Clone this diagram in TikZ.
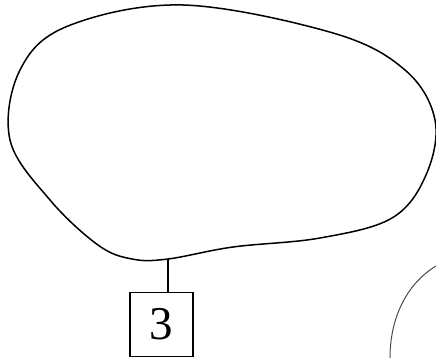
\documentclass[tikz,border=0pt]{standalone}
\usepackage{fontspec}
\setmainfont{Liberation Serif}
\usepackage{tikz}

\begin{document}
\begin{tikzpicture}[x=1pt,y=-1pt]
      \useasboundingbox (0,0) rectangle (436,358);
      \clip (0,0) rectangle (436,358);
      \draw[line width=1.5pt] plot[smooth cycle, tension=0.6] coordinates {(183,5) (333,33) (405,70) (435,120) (426,175) (392,218) (320,238) (233,247) (168,259) (132,259) (98,245) (50,200) (10,140) (20,70) (68,26)};
      \coordinate (top) at (168,259);
      \node[draw, line width=1.2pt, minimum width=63, minimum height=64, inner sep=0] (3) at (161.5,324.5) {\fontsize{47}{50}\selectfont 3};
      \draw[-, line width=1.2pt, draw=black] (top) to (top |- 3.north);
      \draw[-, line width=1pt, draw=black!70] (436,266) .. controls (405,285) and (390,320) .. (390,358);
    \end{tikzpicture}
\end{document}
